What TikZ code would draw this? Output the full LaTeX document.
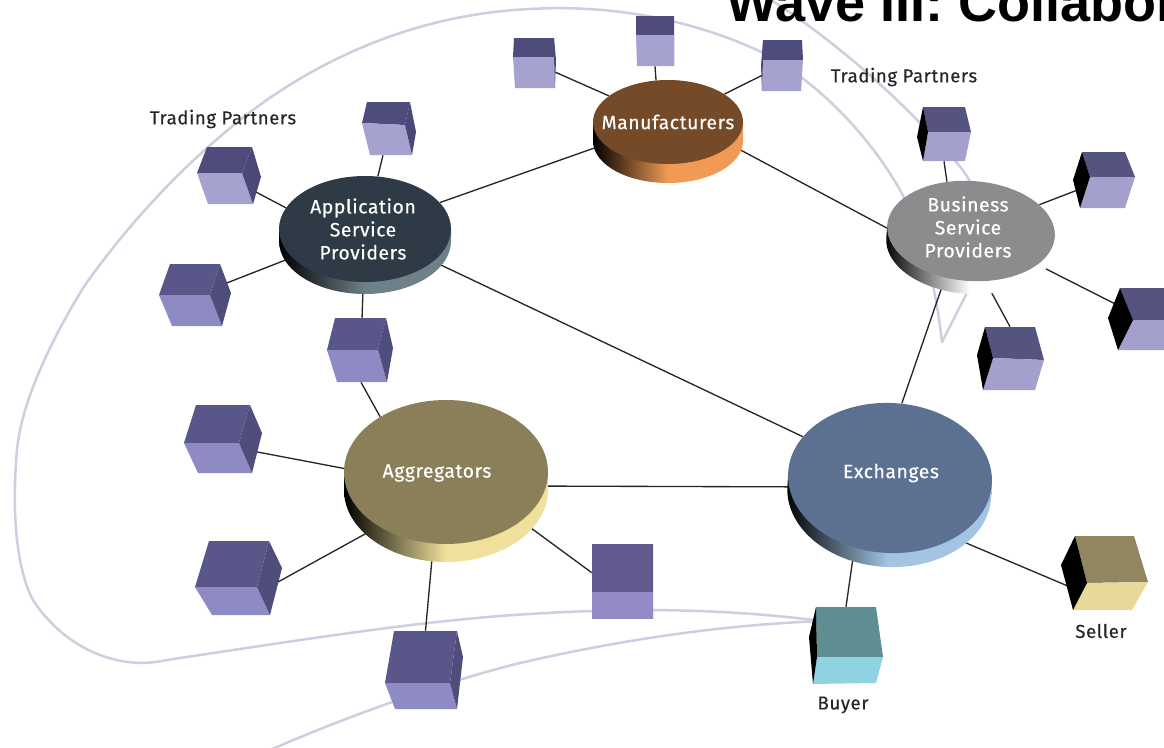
\documentclass[tikz,border=0pt]{standalone}
\usepackage{fontspec}
\usepackage{tikz}
\usetikzlibrary{positioning,calc,fit,backgrounds,shapes.geometric}
\newfontfamily\labelfont[FakeBold=0.4, LetterSpace=3]{Fira Sans}
\newfontfamily\titlefont{Liberation Sans}

\definecolor{swooshline}{HTML}{CDCFE0}
\definecolor{manubrown}{HTML}{744A28}
\definecolor{manurim}{HTML}{F09A55}
\definecolor{aspslate}{HTML}{2E3A45}
\definecolor{asprim}{HTML}{6E8088}
\definecolor{bizgrey}{HTML}{8C8C8E}
\definecolor{aggolive}{HTML}{8A7F58}
\definecolor{aggrim}{HTML}{EFE19C}
\definecolor{exchblue}{HTML}{5C7092}
\definecolor{exchrim}{HTML}{A4C4E4}
\definecolor{uptop}{HTML}{4E4C7C}
\definecolor{uplow}{HTML}{A6A2D0}
\definecolor{upside}{HTML}{4A4876}
\definecolor{blacktop}{HTML}{55537F}
\definecolor{blacklow}{HTML}{A3A0CE}
\definecolor{blackside}{HTML}{000000}
\definecolor{lowtop}{HTML}{59578A}
\definecolor{lowlow}{HTML}{8D8AC4}
\definecolor{lowside}{HTML}{4F4D7C}
\definecolor{flattop}{HTML}{62598F}
\definecolor{flatlow}{HTML}{938AC6}
\definecolor{flatside}{HTML}{62598F}
\definecolor{buyertop}{HTML}{5F8E92}
\definecolor{buyerlow}{HTML}{8FD3E0}
\definecolor{buyerside}{HTML}{000000}
\definecolor{sellertop}{HTML}{918660}
\definecolor{sellerlow}{HTML}{E8D89A}
\definecolor{sellerside}{HTML}{000000}

\tikzset{
    swoosh/.style={draw=swooshline, line width=1.9pt, line cap=round, line join=round},
    link/.style={draw=black!85, line width=1pt},
    diskface/.style={ellipse, inner sep=0pt},
    cubebox/.style={rectangle, inner sep=0pt},
    disklabel/.style={text=white, align=center, inner sep=0pt, font=\labelfont\fontsize{14.5}{17.25}\selectfont},
    caption/.style={text=black!85, inner sep=0pt, font=\labelfont\fontsize{14}{16}\selectfont}
}

% name, x, y, x radius, y radius, depth, tilt, top colour, rim colour
\newcommand{\disk}[9]{%
    \begin{scope}[shift={(#2,#3)}, rotate=#7]
        \shade[left color=black, right color=#9, middle color=#9] (-#4,0) -- (-#4,#6) arc[start angle=180, end angle=0, x radius=#4, y radius=#5] -- (#4,0) -- cycle;
    \end{scope}
    \node[diskface, fill=#8, minimum width={1.5*#4 pt}, minimum height={1.5*#5 pt}, rotate=#7] (#1) at (#2,#3) {};
}
% name, six outer corners, inner corner, colour set (side face on the right)
\newcommand{\rcube}[9]{%
    \fill[#9top] (#2) -- (#3) -- (#8) -- (#7) -- cycle;
    \fill[#9low] (#7) -- (#8) -- (#5) -- (#6) -- cycle;
    \fill[#9side] (#3) -- (#4) -- (#5) -- (#8) -- cycle;
    \node[cubebox, fit={(#2)(#5)}] (#1) {};
}
% same, side face on the left
\newcommand{\lcube}[9]{%
    \fill[#9top] (#2) -- (#3) -- (#4) -- (#8) -- cycle;
    \fill[#9low] (#8) -- (#4) -- (#5) -- (#6) -- cycle;
    \fill[#9side] (#2) -- (#8) -- (#6) -- (#7) -- cycle;
    \node[cubebox, fit={(#2)(#5)}] (#1) {};
}

\begin{document}
\begin{tikzpicture}[x=0.75pt, y=-0.75pt]
    \path[use as bounding box, clip] (0,0) rectangle (1164,747);

    % Define the disks
    \disk{manu}{668}{122}{75}{42}{19}{0}{manubrown}{manurim}
    \disk{asp}{365}{229}{86}{53}{12}{0}{aspslate}{asprim}
    \disk{biz}{971}{231}{84}{50}{13}{-4}{bizgrey}{white}
    \disk{agg}{446}{472}{102}{72}{18}{0}{aggolive}{aggrim}
    \disk{exch}{890}{478}{102}{75}{14}{-3}{exchblue}{exchrim}

    % Define the cubes
    \rcube{mleft}{514,38}{554,38}{556,60}{555,88}{515,88}{513,57}{554,57}{up}
    \rcube{mmid}{636,16}{674,16}{674,35}{674,66}{637,66}{636,35}{674,35}{up}
    \lcube{mright}{763,40}{802,40}{803,60}{801,91}{762,91}{761,66}{763,60}{up}
    \rcube{atop}{367,102}{410,102}{416,132}{412,155}{370,155}{362,123}{405,125}{up}
    \rcube{aupper}{207,147}{252,147}{261,177}{253,204}{208,204}{197,173}{242,173}{up}
    \rcube{alower}{170,264}{220,264}{231,293}{222,326}{172,326}{159,295}{210,295}{low}
    \rcube{abelow}{335,318}{386,318}{393,348}{387,382}{337,382}{327,350}{378,350}{low}
    \lcube{btop}{923,107}{965,107}{971,132}{965,161}{923,161}{917,137}{928,132}{black}
    \lcube{bright}{1082,152}{1125,152}{1135,177}{1125,208}{1080,208}{1073,180}{1090,177}{black}
    \lcube{bfar}{1120,288}{1170,288}{1176,320}{1170,350}{1118,350}{1108,318}{1133,320}{black}
    \lcube{bbelow}{985,327}{1035,327}{1044,360}{1035,390}{983,390}{977,355}{993,358}{black}
    \rcube{gupper}{196,405}{250,405}{262,433}{252,473}{198,473}{184,443}{239,443}{low}
    \rcube{glower}{209,541}{269,541}{282,568}{270,615}{212,615}{195,587}{257,587}{low}
    \rcube{gbelow}{394,631}{457,631}{463,657}{457,709}{395,709}{385,683}{450,683}{low}
    \rcube{gright}{592,544}{653,544}{653,592}{653,619}{592,619}{592,592}{653,592}{flat}
    \lcube{buyer}{816,607}{876,607}{883,657}{876,683}{813,684}{809,637}{817,657}{buyer}
    \lcube{seller}{1075,536}{1134,536}{1148,582}{1132,610}{1073,610}{1061,565}{1087,583}{seller}

    % Define the labels
    \node[disklabel] (manutext) at (668,122) {Manufacturers};
    \node[disklabel] (asptext) at (363,229) {Application\\Service\\Providers};
    \node[disklabel] (biztext) at (968,227) {Business\\Service\\Providers};
    \node[disklabel] (aggtext) at (437,473) {Aggregators};
    \node[disklabel] (exchtext) at (891,473) {Exchanges};
    \node[caption] (partnersleft) at (223,119) {Trading Partners};
    \node[caption] (partnersright) at (904,77) {Trading Partners};
    \node[caption] (sellertext) at (1101,631) {Seller};
    \node[caption] (buyertext) at (843,705) {Buyer};
    \node[anchor=base west, inner sep=0pt, font=\titlefont\bfseries\fontsize{40.5}{40.5}\selectfont] (title) at (726,21) {Wave III: Collabor};

    % Free ends of the swooshes
    \coordinate (buyerport) at (822,621);
    \coordinate (topedge) at (768,-2);
    \coordinate (bottomedge) at (270,750);
    \coordinate (tip) at (942,342);

    \begin{scope}[on background layer]
        % Draw the swooshes
        \draw[swoosh] (buyerport) .. controls (720,608) and (620,607) .. (500,616)
            .. controls (400,624) and (300,640) .. (167,660)
            .. controls (115,672) and (62,645) .. (33,600)
            .. controls (21,578) and (10,530) .. (17,450)
            .. controls (22,395) and (60,325) .. (85,285)
            .. controls (115,243) and (165,180) .. (240,120)
            .. controls (300,72) and (400,15) .. (530,9)
            .. controls (600,5) and (680,15) .. (757,50)
            .. controls (800,70) and (860,120) .. (900,190)
            .. controls (920,225) and (935,280) .. (tip);
        \draw[swoosh] (topedge) .. controls (810,25) and (880,75) .. (957,163)
            .. controls (985,195) and (990,240) .. (972,283) -- (tip);
        \draw[swoosh] (buyerport) .. controls (720,625) and (620,640) .. (520,663)
            .. controls (450,680) and (350,715) .. (bottomedge);

        % Draw lines between the disks
        \draw[link] (asp) -- (manu);
        \draw[link] (manu.-20) -- (biz.182);
        \draw[link] (asp) -- (exch);
        \draw[link] (agg.-8) -- (exch.188);
        \draw[link] (exch.84) -- (biz.245);

        % Draw lines to the cubes
        \draw[link] (manu) -- (mleft);
        \draw[link] (mmid.south) -- (manu.106);
        \draw[link] (manu) -- (mright);
        \draw[link] (asp) -- (atop);
        \draw[link] (aupper.-33) -- (asp.165);
        \draw[link] (asp) -- (alower);
        \draw[link] (asp) -- (abelow);
        \draw[link] (abelow.south) -- (agg.140);
        \draw[link] (btop.south) -- (biz.120);
        \draw[link] (biz) -- (bright);
        \draw[link] (biz) -- (bfar);
        \draw[link] (bbelow.north) -- (biz.-70);
        \draw[link] (gupper.-23) -- (agg.178);
        \draw[link] (glower.-15) -- (agg.219);
        \draw[link] (gbelow.north) -- (agg.-100);
        \draw[link] (gright.164) -- (agg.-33);
        \draw[link] (buyer.north) -- (exch.246);
        \draw[link] (seller.209) -- (exch.-40);
    \end{scope}
\end{tikzpicture}
\end{document}
